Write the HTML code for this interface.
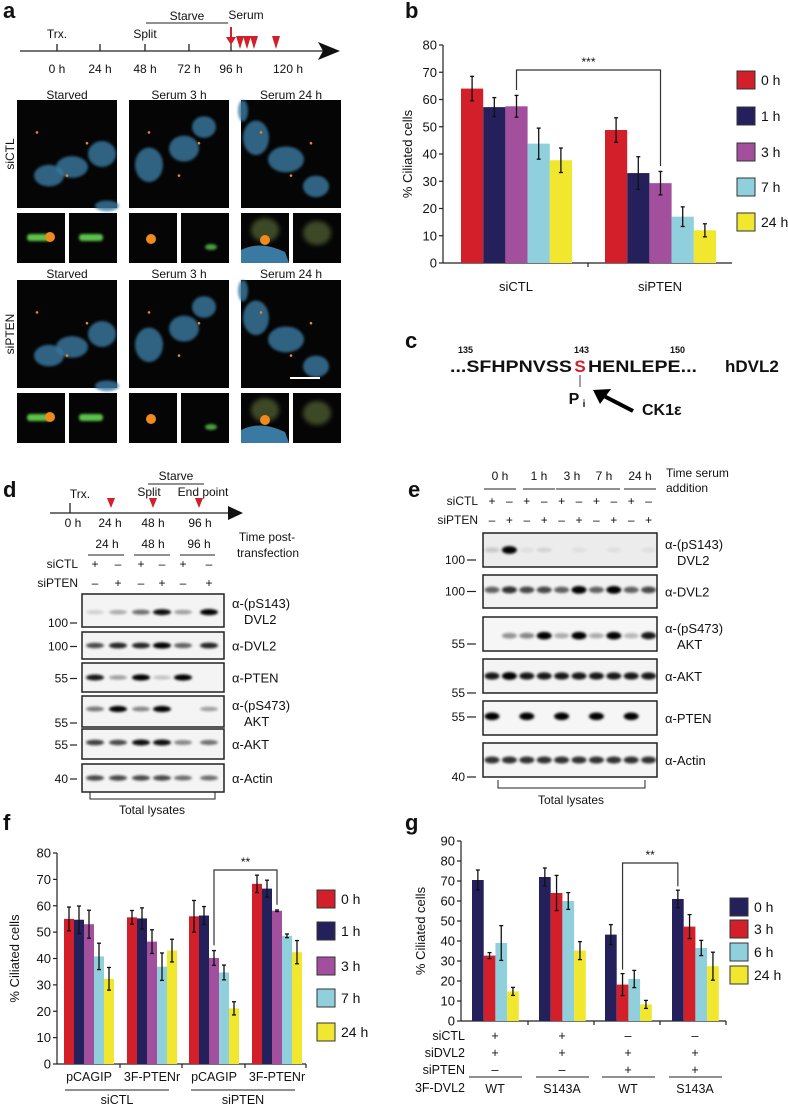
<!DOCTYPE html>
<html><head><meta charset="utf-8"><style>
html,body{margin:0;padding:0;background:#fff}
svg{display:block;font-family:"Liberation Sans",Arial,sans-serif}
</style></head><body>
<svg id="fig" width="788" height="1109" viewBox="0 0 788 1109" xmlns="http://www.w3.org/2000/svg">
<defs>
<filter id="blur1" x="-50%" y="-50%" width="200%" height="200%"><feGaussianBlur stdDeviation="1.4"/></filter>
<filter id="blur2" x="-50%" y="-50%" width="200%" height="200%"><feGaussianBlur stdDeviation="2.5"/></filter>
</defs>
<g id="root"></g>
</svg>
<script>
// ---- Chart data ----
const bCategories = ["siCTL", "siPTEN"];
const bSeries = ["0 h", "1 h", "3 h", "7 h", "24 h"];
const bValues = [[64, 57.2, 57.5, 43.8, 37.7], [48.8, 33, 29.3, 17, 12]];
const bErrors = [[4.5, 3.5, 4, 5.7, 4.5], [4.5, 6, 4.3, 3.6, 2.4]];
const bTicks = [0, 10, 20, 30, 40, 50, 60, 70, 80];

const fCategories = ["pCAGIP", "3F-PTENr", "pCAGIP", "3F-PTENr"];
const fGroups = ["siCTL", "siPTEN"];
const fSeries = ["0 h", "1 h", "3 h", "7 h", "24 h"];
const fValues = [[55, 54.7, 53, 40.8, 32.3], [55.6, 55.2, 46.4, 36.9, 43], [56, 56.3, 40.2, 34.7, 21.1], [68.3, 66.5, 58.1, 48.6, 42.4]];
const fErrors = [[4.5, 5.2, 5.3, 5, 4.3], [2.6, 4, 4.5, 5.2, 4.3], [6, 3.4, 2.8, 2.8, 2.5], [3.3, 3.2, 0.3, 0.7, 4.4]];
const fTicks = [0, 10, 20, 30, 40, 50, 60, 70, 80];

const gCategories = ["WT", "S143A", "WT", "S143A"];
const gSeries = ["0 h", "3 h", "6 h", "24 h"];
const gValues = [[70.5, 32.7, 39, 14.8], [72, 64, 60, 35.2], [43.2, 18.2, 21, 8.3], [61, 47.2, 36.5, 27.4]];
const gErrors = [[5, 1.5, 8.7, 2], [4.5, 8.8, 4.2, 4.5], [5, 5.5, 4.3, 2], [4.4, 6, 3.8, 7]];
const gTicks = [0, 10, 20, 30, 40, 50, 60, 70, 80, 90];
const gSiCTL = ["+", "+", "–", "–"];
const gSiDVL2 = ["+", "+", "+", "+"];
const gSiPTEN = ["–", "–", "+", "+"];

// ---- helpers ----
const NS = "http://www.w3.org/2000/svg";
const root = document.getElementById("root");
function el(tag, attrs, parent, text) {
  const e = document.createElementNS(NS, tag);
  for (const k in attrs) e.setAttribute(k, attrs[k]);
  if (text !== undefined) e.textContent = text;
  (parent || root).appendChild(e);
  return e;
}
function txt(x, y, s, size, anchor, parent, extra) {
  return el("text", Object.assign({x: x, y: y, "font-size": size || 12, "text-anchor": anchor || "start", fill: "#111"}, extra || {}), parent, s);
}
function line(x1, y1, x2, y2, parent, w, c) {
  return el("line", {x1: x1, y1: y1, x2: x2, y2: y2, stroke: c || "#222", "stroke-width": w || 1}, parent);
}
function panelLabel(x, y, s) {
  const t = txt(x, y, s, 22, "start", root, {"font-weight": "bold"});
  
  
}
const COL = {"0 h": "#d21f2a", "1 h": "#24205c", "3 h": "#a24f9e", "7 h": "#8fd0dc", "24 h": "#f1e72e"};
const COLG = {"0 h": "#24205c", "3 h": "#d21f2a", "6 h": "#8fd0dc", "24 h": "#f1e72e"};

// ---- Panel a ----
panelLabel(3, 18, "a");
const ga = el("g", {});  
line(20, 51, 328, 51, ga, 1.3);
el("path", {d: "M318,42 L340,51 L318,60 L323,51 z", fill: "#111"}, ga);
[["0 h", 57], ["24 h", 100], ["48 h", 145], ["72 h", 189], ["96 h", 231]].forEach(([s, x]) => {
  line(x, 44, x, 51, ga, 1.3);
  txt(x, 73, s, 12, "middle", ga);
});
txt(288, 73, "120 h", 12, "middle", ga);
txt(57, 38, "Trx.", 12, "middle", ga);
txt(145, 38, "Split", 12, "middle", ga);
line(146, 23, 228, 23, ga, 1);
txt(187, 20, "Starve", 12, "middle", ga);
txt(246, 19, "Serum", 12, "middle", ga);
line(231, 27, 231, 38, ga, 2, "#d21f2a");
el("path", {d: "M226,37 L236,37 L231,45 z", fill: "#d21f2a"}, ga);
[240, 247, 254, 276].forEach(x => el("path", {d: `M${x-4},36 L${x+4},36 L${x},49 z`, fill: "#d21f2a"}, ga));

function micro(x, y, w, h, parent, nuclei, dots) {
  el("rect", {x: x, y: y, width: w, height: h, fill: "#050505"}, parent);
  nuclei.forEach(n => el("ellipse", {cx: x + n[0] * w, cy: y + n[1] * h, rx: n[2] * w, ry: n[3] * h, fill: "#3a7aa2", opacity: 0.8, filter: "url(#blur1)"}, parent));
  dots.forEach(d => el("circle", {cx: x + d[0] * w, cy: y + d[1] * h, r: 1.3, fill: "#e8891c"}, parent));
}
function row(yTitle, yImg, nameTag) {
  const titles = ["Starved", "Serum 3 h", "Serum 24 h"];
  const xs = [17, 129, 241];
  const nucSets = [
    [[0.55, 0.62, 0.16, 0.1], [0.32, 0.7, 0.15, 0.1], [0.85, 0.5, 0.14, 0.12], [0.9, 0.98, 0.12, 0.05]],
    [[0.2, 0.6, 0.14, 0.16], [0.55, 0.45, 0.15, 0.12], [0.75, 0.25, 0.12, 0.1]],
    [[0.15, 0.35, 0.13, 0.16], [0.45, 0.55, 0.18, 0.12], [0.75, 0.8, 0.13, 0.1], [0.02, 0.1, 0.05, 0.1]]
  ];
  xs.forEach((x, i) => {
    txt(x + 50, yTitle, titles[i], 12, "middle", ga);
    const g = el("g", {}, ga);
    
    
    micro(x, yImg, 100, 108, g, nucSets[i], [[0.2, 0.3], [0.5, 0.7], [0.7, 0.4]]);
    el("rect", {x: x, y: yImg + 113, width: 48, height: 50, fill: "#050505"}, g);
    el("rect", {x: x + 52, y: yImg + 113, width: 48, height: 50, fill: "#050505"}, g);
    if (i === 0) {
      el("rect", {x: x + 10, y: yImg + 134, width: 24, height: 7, rx: 3, fill: "#5bc24a", filter: "url(#blur1)"}, g);
      el("rect", {x: x + 62, y: yImg + 134, width: 24, height: 7, rx: 3, fill: "#5bc24a", filter: "url(#blur1)"}, g);
      el("circle", {cx: x + 33, cy: yImg + 137, r: 5, fill: "#f08a1c"}, g);
    } else if (i === 1) {
      el("circle", {cx: x + 22, cy: yImg + 139, r: 5, fill: "#f08a1c"}, g);
      el("ellipse", {cx: x + 82, cy: yImg + 147, rx: 6, ry: 3, fill: "#4aa040", filter: "url(#blur1)"}, g);
    } else {
      el("path", {d: `M${x},${yImg+150} Q${x+20},${yImg+140} ${x+44},${yImg+152} L${x+48},${yImg+163} L${x},${yImg+163} z`, fill: "#3a7aa2"}, g);
      el("ellipse", {cx: x + 24, cy: yImg + 130, rx: 14, ry: 12, fill: "#3e4a25", filter: "url(#blur2)"}, g);
      el("circle", {cx: x + 24, cy: yImg + 140, r: 5, fill: "#f08a1c"}, g);
      el("ellipse", {cx: x + 76, cy: yImg + 133, rx: 14, ry: 12, fill: "#3e4a25", filter: "url(#blur2)"}, g);
    }
  });
}
row(99, 100, "siCTL");
row(278, 280, "siPTEN");
txt(0, 0, "siCTL", 12, "middle", ga, {transform: "translate(14,154) rotate(-90)"});
txt(0, 0, "siPTEN", 12, "middle", ga, {transform: "translate(14,334) rotate(-90)"});
line(290, 378, 320, 378, ga, 2, "#fff");

// ---- generic bar chart ----
function barChart(opts) {
  const g = el("g", {});
  
  
  const C = opts.colors;
  const y = v => opts.y0 - v * opts.pxPerUnit;
  line(opts.xAxis0, opts.y0, opts.xAxis0, y(opts.ticks[opts.ticks.length - 1]), g, 1.2);
  line(opts.xAxis0, opts.y0, opts.xAxis1, opts.y0, g, 1.2);
  opts.ticks.forEach(t => {
    line(opts.xAxis0 - 4, y(t), opts.xAxis0, y(t), g, 1.2);
    const tl = txt(opts.xAxis0 - 6, y(t) + 4.5, String(t), 13, "end", g);
    
    
  });
  (opts.dividers || []).forEach(x => line(x, opts.y0, x, opts.y0 + 4, g, 1.2));
  const yl = txt(0, 0, "% Ciliated cells", 13, "middle", g, {transform: `translate(${opts.yLabelX},${(opts.y0 + y(opts.ticks[opts.ticks.length - 1])) / 2}) rotate(-90)`});
  
  
  opts.values.forEach((grp, gi) => {
    grp.forEach((v, si) => {
      const x = opts.groupStart[gi] + si * opts.barW;
      const r = el("rect", {x: x, y: y(v), width: opts.barW, height: opts.y0 - y(v), fill: C[opts.series[si]]}, g);
      
      
      const e = opts.errors[gi][si], cx = x + opts.barW / 2;
      line(cx, y(v + e), cx, y(v - e), g, 1.3, "#111");
      line(cx - 2, y(v + e), cx + 2, y(v + e), g, 1.3, "#111");
      line(cx - 2, y(v - e), cx + 2, y(v - e), g, 1.3, "#111");
    });
  });
  opts.series.forEach((s, i) => {
    const cy = opts.legendY[i];
    const lg = el("g", {}, g);
    
    
    el("rect", {x: opts.legendX, y: cy - 9, width: 18, height: 18, fill: C[s], stroke: "#333", "stroke-width": 1}, lg);
    txt(opts.legendX + 24, cy + 5, s, 14, "start", lg);
  });
  const br = opts.bracket;
  const bg = el("g", {}, g);
  
  
  const xa = opts.groupStart[br.a[0]] + br.a[1] * opts.barW + opts.barW / 2;
  const xb = opts.groupStart[br.b[0]] + br.b[1] * opts.barW + opts.barW / 2;
  const va = opts.values[br.a[0]][br.a[1]] + opts.errors[br.a[0]][br.a[1]] + 2;
  const vb = opts.values[br.b[0]][br.b[1]] + opts.errors[br.b[0]][br.b[1]] + 2;
  el("path", {d: `M${xa},${y(va)} L${xa},${br.y} L${xb},${br.y} L${xb},${y(vb)}`, fill: "none", stroke: "#333", "stroke-width": 1.2}, bg);
  txt((xa + xb) / 2, br.y - 4, br.label, 12, "middle", bg);
  return {g: g, y: y};
}

// ---- Panel b ----
panelLabel(405, 18, "b");
const bStart = [461, 605];
const bc = barChart({name: "panel-b-chart", colors: COL, y0: 263, pxPerUnit: 218 / 80, xAxis0: 443, xAxis1: 732, ticks: bTicks,
  values: bValues, errors: bErrors, series: bSeries, labels: bCategories, groupStart: bStart, barW: 22.2,
  dividers: [588], yLabelX: 412, legendX: 737, legendY: [80, 116, 152, 187, 222],
  bracket: {a: [0, 2], b: [1, 2], y: 70, label: "***"}});
bCategories.forEach((c, i) => {
  const t = txt(bStart[i] + 55, 291, c, 13, "middle", bc.g);
  
  
});

// ---- Panel c ----
panelLabel(405, 348, "c");
const gc = el("g", {});  
txt(450, 372, "...SFHPNVSS", 17, "start", gc, {"font-weight": "bold", textLength: 122, lengthAdjust: "spacingAndGlyphs"});
txt(580, 372, "S", 17, "middle", gc, {"font-weight": "bold", fill: "#d21f2a"});
txt(588, 372, "HENLEPE...", 17, "start", gc, {"font-weight": "bold", textLength: 109, lengthAdjust: "spacingAndGlyphs"});
txt(725, 372, "hDVL2", 17, "start", gc, {"font-weight": "bold"});
txt(458, 353, "135", 9, "start", gc, {"font-weight": "bold"});
txt(574, 353, "143", 9, "start", gc, {"font-weight": "bold"});
txt(670, 353, "150", 9, "start", gc, {"font-weight": "bold"});
line(580, 375, 580, 387, gc, 1, "#444");
txt(574, 404, "P", 16, "middle", gc, {"font-weight": "bold"});
txt(584, 407, "i", 10, "middle", gc, {"font-weight": "bold"});
line(633, 411, 600, 394, gc, 4, "#000");
el("path", {d: "M593,390 L611,389 L600,404 z", fill: "#000"}, gc);
txt(642, 415, "CK1ε", 16, "start", gc, {"font-weight": "bold"});

// ---- blot helper ----
function blot(g, x0, x1, yTop, yBot, lanes, intens, opts) {
  el("rect", {x: x0, y: yTop, width: x1 - x0, height: yBot - yTop, fill: opts.bg || "#f4f4f4", stroke: "#222", "stroke-width": 1.5}, g);
  const yc = yTop + (yBot - yTop) * (opts.pos || 0.5);
  lanes.forEach((lx, i) => {
    const a = intens[i];
    if (a <= 0) return;
    el("ellipse", {cx: lx, cy: yc, rx: opts.bw || 8, ry: (opts.bh || 3) * (0.7 + a * 0.5), fill: "#000", opacity: Math.min(1, a), filter: "url(#blur1)"}, g);
  });
}

// ---- Panel d ----
panelLabel(3, 497, "d");
const gd = el("g", {});  
line(50, 513, 235, 513, gd, 1.3);
el("path", {d: "M228,506 L243,513 L228,520 z", fill: "#111"}, gd);
line(70, 503, 70, 513, gd, 1.3);
txt(80, 498, "Trx.", 12, "middle", gd);
[111, 153, 199].forEach(x => el("path", {d: `M${x-4},498 L${x+4},498 L${x},508 z`, fill: "#d21f2a"}, gd));
[["0 h", 73], ["24 h", 110], ["48 h", 153], ["96 h", 200]].forEach(([s, x]) => txt(x, 527, s, 12, "middle", gd));
txt(176, 480, "Starve", 12, "middle", gd);
line(148, 484, 204, 484, gd, 1);
txt(149, 496, "Split", 12, "middle", gd);
txt(203, 496, "End point", 12, "middle", gd);
[["24 h", 107, 88, 124], ["48 h", 153, 134, 170], ["96 h", 199, 180, 215]].forEach(([s, x, a, b]) => {
  txt(x, 548, s, 12, "middle", gd);
  line(a, 555, b, 555, gd, 1);
});
txt(267, 541, "Time post-", 12, "middle", gd);
txt(268, 557, "transfection", 12, "middle", gd);
txt(78, 568, "siCTL", 12, "end", gd);
txt(78, 587, "siPTEN", 12, "end", gd);
const dLanes = [95, 118, 141, 162, 183, 209];
const dCTL = ["+", "–", "+", "–", "+", "–"], dPTEN = ["–", "+", "–", "+", "–", "+"];
dLanes.forEach((x, i) => { txt(x, 568, dCTL[i], 12, "middle", gd); txt(x, 587, dPTEN[i], 12, "middle", gd); });
const dBoxes = [
  [594, 627, [0.15, 0.3, 0.55, 0.95, 0.35, 1], "α-(pS143)", "DVL2", "100", 0.55],
  [632, 659, [0.7, 0.85, 0.85, 1, 0.6, 0.85], "α-DVL2", "", "100", 0.5],
  [663, 692, [0.9, 0.35, 1, 0.2, 1, 0], "α-PTEN", "", "55", 0.5],
  [696, 727, [0.5, 1, 0.45, 1, 0, 0.35], "α-(pS473)", "AKT", "55", 0.42],
  [729, 759, [0.75, 0.7, 0.95, 0.95, 0.45, 0.55], "α-AKT", "", "55", 0.45],
  [764, 792, [0.7, 0.7, 0.7, 0.7, 0.55, 0.55], "α-Actin", "", "40", 0.5]
];
dBoxes.forEach(([t, b, it, l1, l2, mw, pos]) => {
  const bg = el("g", {}, gd);
  
  
  blot(bg, 82, 224, t, b, dLanes, it, {pos: pos, bw: 9, bh: 2.6});
  txt(232, l2 ? t + 14 : (t + b) / 2 + 5, l1, 13, "start", bg);
  if (l2) txt(244, t + 30, l2, 13, "start", bg);
  const my = l2 ? b - 4 : (t + b) / 2 + 1;
  txt(68, my + 4, mw, 12, "end", bg);
  line(70, my, 77, my, bg, 1.2);
});
el("path", {d: "M90,792 L90,799 L215,799 L215,792", fill: "none", stroke: "#222"}, gd);
txt(152, 814, "Total lysates", 12, "middle", gd);

// ---- Panel e ----
panelLabel(408, 497, "e");
const ge = el("g", {});  
const eTimes = [["0 h", 500], ["1 h", 539], ["3 h", 572], ["7 h", 604], ["24 h", 640]];
eTimes.forEach(([s, x]) => { txt(x, 480, s, 12, "middle", ge); line(x - 16, 489, x + 16, 489, ge, 1); });
txt(666, 477, "Time serum", 12, "start", ge);
txt(666, 492, "addition", 12, "start", ge);
const eLanes = []; for (let i = 0; i < 10; i++) eLanes.push(492 + i * 17.4);
txt(478, 505, "siCTL", 12, "end", ge);
txt(478, 524, "siPTEN", 12, "end", ge);
eLanes.forEach((x, i) => { txt(x, 505, i % 2 ? "–" : "+", 12, "middle", ge); txt(x, 524, i % 2 ? "+" : "–", 12, "middle", ge); });
const eBoxes = [
  [533, 567, [0.15, 1, 0.05, 0.1, 0, 0.05, 0, 0.05, 0, 0.05], "α-(pS143)", "DVL2", "100", 0.5, "#ececec"],
  [575, 608, [0.6, 0.8, 0.7, 0.7, 0.6, 1, 0.6, 1, 0.6, 0.7], "α-DVL2", "", "100", 0.45, "#f2f2f2"],
  [617, 651, [0, 0.4, 0.45, 1, 0.3, 1, 0.3, 1, 0.25, 0.9], "α-(pS473)", "AKT", "55", 0.55, "#f6f6f6"],
  [659, 693, [0.9, 1, 0.9, 0.9, 0.9, 0.9, 0.9, 0.9, 0.9, 0.9], "α-AKT", "", "55", 0.5, "#f4f4f4"],
  [701, 735, [1, 0, 1, 0, 1, 0, 1, 0, 1, 0], "α-PTEN", "", "55", 0.45, "#f6f6f6"],
  [743, 777, [0.8, 0.8, 0.8, 0.8, 0.8, 0.8, 0.8, 0.8, 0.8, 0.8], "α-Actin", "", "40", 0.5, "#f6f6f6"]
];
eBoxes.forEach(([t, b, it, l1, l2, mw, pos, bgc]) => {
  const bg = el("g", {}, ge);
  
  
  blot(bg, 483, 657, t, b, eLanes, it, {pos: pos, bw: 7.5, bh: 3.2, bg: bgc});
  txt(665, l2 ? t + 16 : (t + b) / 2 + 5, l1, 13, "start", bg);
  if (l2) txt(677, t + 32, l2, 13, "start", bg);
  const my = l2 ? b - 7 : (mw === "100" ? (t + b) / 2 : b - 8 + (l1 === "α-PTEN" ? -10 : 8));
  txt(465, my + 4, mw, 12, "end", bg);
  line(467, my, 476, my, bg, 1.2);
});
el("path", {d: "M498,780 L498,788 L645,788 L645,780", fill: "none", stroke: "#222"}, ge);
txt(571, 804, "Total lysates", 12, "middle", ge);

// ---- Panel f ----
panelLabel(3, 830, "f");
const fStart = [64, 127, 189, 252];
const fc = barChart({name: "panel-f-chart", colors: COL, y0: 1064, pxPerUnit: 211 / 80, xAxis0: 57, xAxis1: 306, ticks: fTicks,
  values: fValues, errors: fErrors, series: fSeries, labels: fCategories, groupStart: fStart, barW: 10,
  dividers: [120, 182, 245, 306], yLabelX: 19, legendX: 317, legendY: [899, 931, 966, 998, 1032],
  bracket: {a: [2, 2], b: [3, 2], y: 870, label: "**"}});
fCategories.forEach((c, i) => {
  const t = txt(fStart[i] + 25, 1081, c, 12.5, "middle", fc.g);
  
  
});
fGroups.forEach((c, i) => {
  const x = 117 + i * 126;
  line(x - 52, 1090, x + 52, 1090, fc.g, 1);
  txt(x, 1104, c, 12.5, "middle", fc.g);
});

// ---- Panel g ----
panelLabel(405, 830, "g");
const gStart = [472, 539, 605, 672];
const gcChart = barChart({name: "panel-g-chart", colors: COLG, y0: 1021, pxPerUnit: 180 / 90, xAxis0: 461, xAxis1: 726, ticks: gTicks,
  values: gValues, errors: gErrors, series: gSeries, labels: gCategories.map((c, i) => c + (i + 1)), groupStart: gStart, barW: 11.7,
  dividers: [528, 594, 660, 726], yLabelX: 425, legendX: 730, legendY: [907, 929, 952, 975],
  bracket: {a: [2, 1], b: [3, 0], y: 863, label: "**"}});
const rowsG = [["siCTL", gSiCTL, 1040], ["siDVL2", gSiDVL2, 1057], ["siPTEN", gSiPTEN, 1074]];
rowsG.forEach(([lab, arr, yy]) => {
  txt(465, yy, lab, 12.5, "end", gcChart.g);
  arr.forEach((s, i) => txt(gStart[i] + 23, yy, s, 12.5, "middle", gcChart.g));
});
txt(465, 1092, "3F-DVL2", 12.5, "end", gcChart.g);
gCategories.forEach((c, i) => {
  line(gStart[i] - 3, 1077, gStart[i] + 50, 1077, gcChart.g, 1);
  const t = txt(gStart[i] + 23, 1093, c, 12.5, "middle", gcChart.g);
  
  
});
</script>
</body></html>
